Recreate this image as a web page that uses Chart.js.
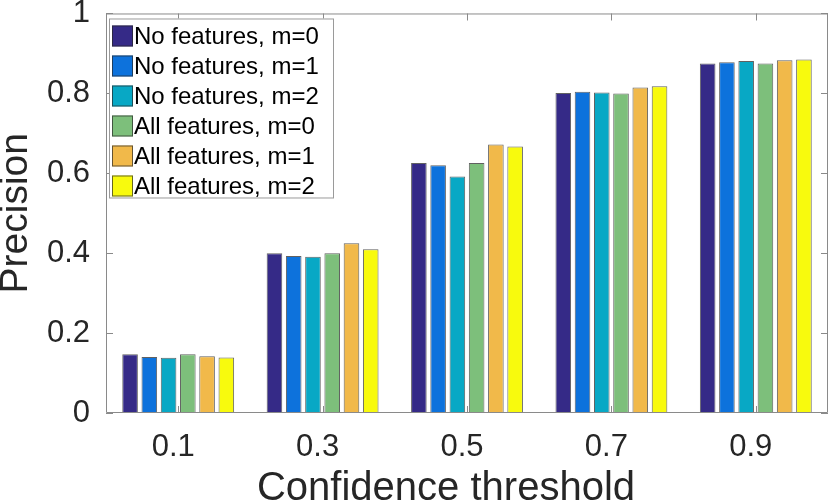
<!DOCTYPE html>
<html>
<head>
<meta charset="utf-8">
<script src="https://cdn.jsdelivr.net/npm/chart.js@4/dist/chart.umd.min.js"></script>
<style>
  html, body { margin: 0; padding: 0; background: #fff; }
  #wrap { width: 830px; height: 503px; position: relative; }
</style>
</head>
<body>
<div id="wrap"><canvas id="precisionChart"></canvas></div>
<script>
// Data
const thresholds = ['0.1', '0.3', '0.5', '0.7', '0.9'];
const noFeatM0  = [0.147, 0.400, 0.626, 0.801, 0.875];
const noFeatM1  = [0.140, 0.393, 0.620, 0.804, 0.878];
const noFeatM2  = [0.138, 0.391, 0.592, 0.802, 0.881];
const allFeatM0 = [0.147, 0.400, 0.626, 0.800, 0.875];
const allFeatM1 = [0.142, 0.425, 0.672, 0.815, 0.883];
const allFeatM2 = [0.139, 0.410, 0.667, 0.818, 0.885];
const yTicks = [0, 0.2, 0.4, 0.6, 0.8, 1];

const FONT = '"Liberation Sans", Arial, Helvetica, sans-serif';
const TEXT = '#262626';
const AXIS = '#8a8a8a';

const series = [
    { label: 'No features, m=0',  data: noFeatM0,  color: '#352a87' },
    { label: 'No features, m=1',  data: noFeatM1,  color: '#0d72dc' },
    { label: 'No features, m=2',  data: noFeatM2,  color: '#08a8c5' },
    { label: 'All features, m=0', data: allFeatM0, color: '#7dbf7b' },
    { label: 'All features, m=1', data: allFeatM1, color: '#f1b94a' },
    { label: 'All features, m=2', data: allFeatM2, color: '#f8fa0d' }
];

// Box, inward ticks, inset legend and x label (MATLAB look)
const matlabAxes = {
    id: 'matlabAxes',
    afterDatasetsDraw(chart) {
        const { ctx, chartArea: a, scales: { x, y } } = chart;
        const tl = 7;
        ctx.save();
        ctx.strokeStyle = AXIS;
        ctx.lineWidth = 1;
        ctx.beginPath();
        ctx.rect(a.left + 0.5, a.top + 0.5, a.right - a.left - 1, a.bottom - a.top - 1);
        x.ticks.forEach((t, i) => {
            const px = Math.round(x.getPixelForTick(i)) + 0.5;
            ctx.moveTo(px, a.bottom); ctx.lineTo(px, a.bottom - tl);
            ctx.moveTo(px, a.top); ctx.lineTo(px, a.top + tl);
        });
        y.ticks.forEach((t, i) => {
            const py = Math.round(y.getPixelForTick(i)) + 0.5;
            ctx.moveTo(a.left, py); ctx.lineTo(a.left + tl, py);
            ctx.moveTo(a.right, py); ctx.lineTo(a.right - tl, py);
        });
        ctx.stroke();

        // legend inside the axes, top-left
        const lx = a.left + 3, ly = a.top + 5, rowH = 30, sw = 21;
        const w = 224, h = chart.data.datasets.length * rowH - 1;
        ctx.fillStyle = '#fff';
        ctx.fillRect(lx, ly, w, h);
        ctx.strokeStyle = '#9a9a9a';
        ctx.strokeRect(lx + 0.5, ly + 0.5, w, h);
        ctx.font = '24px ' + FONT;
        ctx.textBaseline = 'middle';
        ctx.textAlign = 'left';
        chart.data.datasets.forEach((ds, i) => {
            const top = ly + 7 + i * rowH;
            ctx.fillStyle = ds.backgroundColor;
            ctx.fillRect(lx + 3, top, sw, sw);
            ctx.strokeStyle = 'rgba(40,40,40,0.7)';
            ctx.strokeRect(lx + 3.5, top + 0.5, sw - 1, sw - 1);
            ctx.fillStyle = '#000';
            ctx.fillText(ds.label, lx + sw + 4, top + sw / 2 + 1);
        });

        // x axis label (sits a little left of centre in the original)
        ctx.fillStyle = TEXT;
        ctx.font = '40px ' + FONT;
        ctx.textAlign = 'center';
        ctx.textBaseline = 'alphabetic';
        ctx.fillText('Confidence threshold', (a.left + a.right) / 2 - 21, 500);
        ctx.restore();
    }
};

new Chart(document.getElementById('precisionChart'), {
    type: 'bar',
    data: {
        labels: thresholds,
        datasets: series.map(s => ({
            label: s.label,
            data: s.data,
            backgroundColor: s.color,
            borderColor: 'rgba(30,30,30,0.7)',
            borderWidth: 1,
            categoryPercentage: 0.8,
            barPercentage: 0.81
        }))
    },
    options: {
        responsive: true,
        maintainAspectRatio: false,
        animation: false,
        devicePixelRatio: 1,
        layout: { padding: { top: 0, right: 2, left: 0, bottom: 0 } },
        plugins: {
            legend: { display: false },
            tooltip: { enabled: false }
        },
        scales: {
            x: {
                grid: { display: false, drawTicks: false },
                border: { display: false },
                ticks: {
                    color: TEXT,
                    font: { family: FONT, size: 31 },
                    padding: 16,
                    labelOffset: -5,
                    maxRotation: 0
                },
                afterFit: s => { s.height = 90; }
            },
            y: {
                min: 0,
                max: 1,
                afterBuildTicks: s => { s.ticks = yTicks.map(v => ({ value: v })); },
                // tick length (not ticks.padding) makes the label gap, so no extra top padding
                grid: { display: false, drawTicks: true, tickLength: 16 },
                border: { display: false },
                ticks: {
                    color: TEXT,
                    font: { family: FONT, size: 31, lineHeight: 0.87 },
                    padding: 0,
                    callback: v => String(v)
                },
                title: {
                    display: true,
                    text: 'Precision',
                    color: TEXT,
                    font: { family: FONT, size: 39, lineHeight: 0.85 },
                    padding: 0
                },
                afterFit: s => { s.width = 106; }
            }
        }
    },
    plugins: [matlabAxes]
});
</script>
</body>
</html>
